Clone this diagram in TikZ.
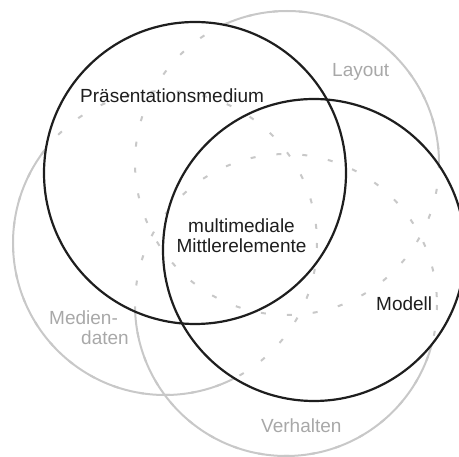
\documentclass[tikz,border=0pt]{standalone}
\usepackage{fontspec}
\setmainfont{Liberation Sans}
\definecolor{ink}{HTML}{1E1E1E}
\definecolor{lightline}{HTML}{C8C8C8}
\definecolor{lighttext}{HTML}{A8A8A8}
\begin{document}
\begin{tikzpicture}[x=1pt,y=-1pt,
  mainring/.style={draw=ink,line width=2.2pt},
  sidering/.style={draw=lightline,line width=2pt},
  sidedash/.style={draw=lightline,line width=2pt,dash pattern=on 5pt off 21pt},
  label/.style={inner sep=0pt,anchor=base west,font=\fontsize{19}{20}\selectfont},
  darklabel/.style={label,text=ink},
  lightlabel/.style={label,text=lighttext}]
\useasboundingbox (0,0) rectangle (459,457);

% circle centres
\coordinate (praes) at (195,173);
\coordinate (modell) at (314,250);
\coordinate (layout) at (287,163);
\coordinate (medien) at (165,243);
\coordinate (verhalten) at (286,305);

% light circles, solid where they lie outside the two main circles
\draw[sidering] (layout) circle[radius=152];
\draw[sidering] (medien) circle[radius=152];
\draw[sidering] (verhalten) circle[radius=151];

% blank out the inside of the main circles
\fill[white] (praes) circle[radius=151];
\fill[white] (modell) circle[radius=151];

% light circles, dashed inside the main circles
\draw[sidedash] (layout) circle[radius=152];
\draw[sidedash] (medien) circle[radius=152];
\draw[sidedash] (verhalten) circle[radius=151];

% main circles
\draw[mainring] (praes) circle[radius=151];
\draw[mainring] (modell) circle[radius=151];

% labels (two-line nodes sit on the baseline of their last line)
\node[darklabel] (tpraes) at (80,103) {Präsentationsmedium};
\node[darklabel,anchor=base,align=center] (tmittler) at (241.5,253) {multimediale\\Mittlerelemente};
\node[darklabel] (tmodell) at (376,311) {Modell};
\node[lightlabel] (tlayout) at (332,77) {Layout};
\node[lightlabel,align=left] (tmedien) at (49,345) {Medien-\\\hspace*{32pt}daten};
\node[lightlabel] (tverhalten) at (261,433) {Verhalten};
\end{tikzpicture}
\end{document}
